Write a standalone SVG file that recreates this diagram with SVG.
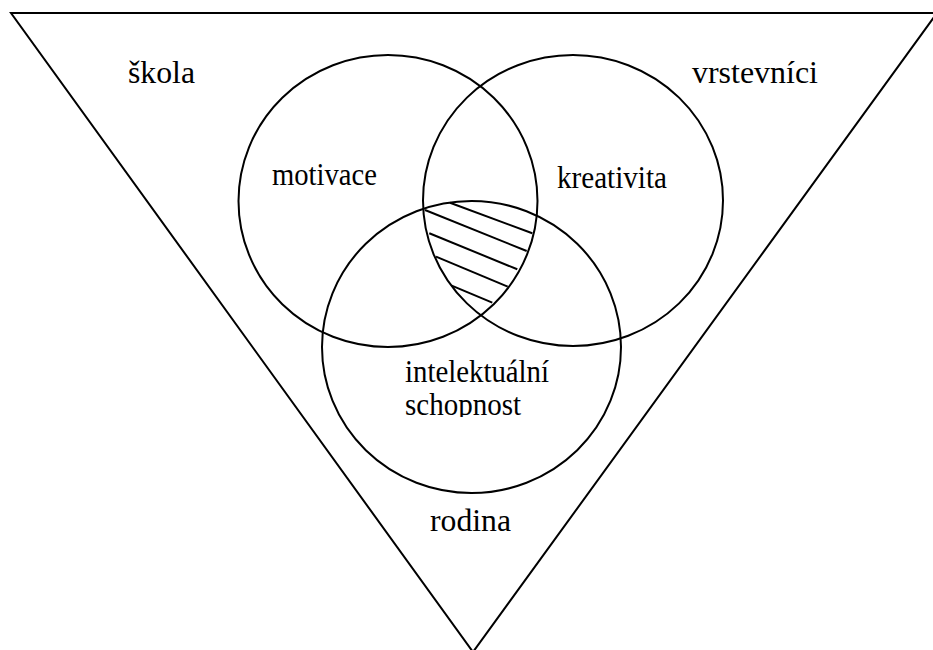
<svg xmlns="http://www.w3.org/2000/svg" width="933" height="650" viewBox="0 0 933 650">
  <defs>
    <style>
      .ln { fill: none; stroke: #000; stroke-width: 2; }
      text { font-family: 'Liberation Serif', 'Times New Roman', 'DejaVu Serif', serif; font-size: 31px; fill: #000; }
    </style>
    <clipPath id="clipSch">
      <rect x="380" y="390" width="200" height="27"/>
    </clipPath>
  </defs>
  <rect width="933" height="650" fill="#fff"/>
  <g id="triangle">
    <polygon class="ln" points="11,13 937,13 473,652"/>
  </g>
  <g id="circle-motivace">
    <ellipse class="ln" cx="388" cy="201" rx="149.5" ry="146"/>
    <text font-family="Liberation Serif, serif" x="272" y="185" textLength="105" lengthAdjust="spacingAndGlyphs">motivace</text>
  </g>
  <g id="circle-kreativita">
    <ellipse class="ln" cx="573" cy="200.5" rx="150" ry="145.5"/>
    <text font-family="Liberation Serif, serif" x="557" y="188" textLength="110" lengthAdjust="spacingAndGlyphs">kreativita</text>
  </g>
  <g id="circle-intelekt">
    <ellipse class="ln" cx="471.5" cy="347" rx="149.5" ry="146"/>
    <text font-family="Liberation Serif, serif" x="405" y="382" textLength="144" lengthAdjust="spacingAndGlyphs">intelektuální</text>
    <text font-family="Liberation Serif, serif" x="405" y="415" textLength="116" lengthAdjust="spacingAndGlyphs" clip-path="url(#clipSch)">schopnost</text>
  </g>
  <g id="hatching">
    <line class="ln" x1="450" y1="202.7" x2="532.3" y2="233.3"/>
    <line class="ln" x1="425" y1="210" x2="526.7" y2="251"/>
    <line class="ln" x1="429.3" y1="233.3" x2="517.3" y2="269.3"/>
    <line class="ln" x1="436" y1="256.7" x2="507.7" y2="286.7"/>
    <line class="ln" x1="451.7" y1="285.7" x2="492.3" y2="302.7"/>
  </g>
  <g id="labels">
    <text font-family="Liberation Serif, serif" x="128" y="83" textLength="67" lengthAdjust="spacingAndGlyphs">škola</text>
    <text font-family="Liberation Serif, serif" x="692" y="83" textLength="126" lengthAdjust="spacingAndGlyphs">vrstevníci</text>
    <text font-family="Liberation Serif, serif" x="430" y="531" textLength="81" lengthAdjust="spacingAndGlyphs">rodina</text>
  </g>
</svg>
